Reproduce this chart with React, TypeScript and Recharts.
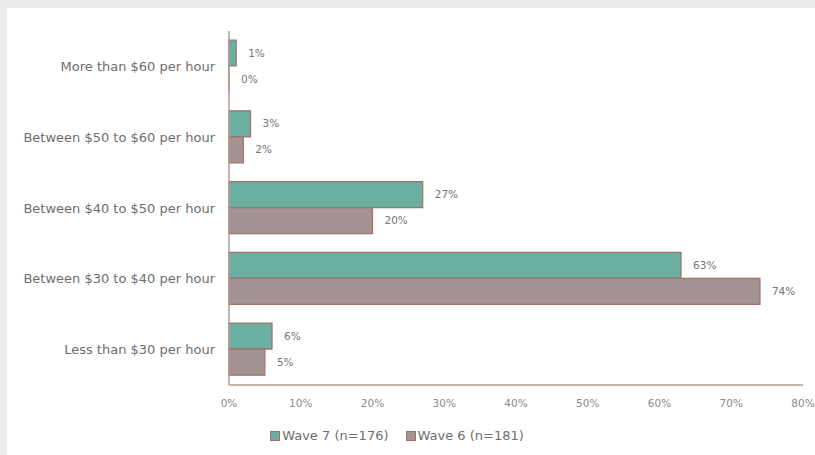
import { BarChart, Bar, XAxis, YAxis } from "recharts";

const categories = [
  "More than $60 per hour",
  "Between $50 to $60 per hour",
  "Between $40 to $50 per hour",
  "Between $30 to $40 per hour",
  "Less than $30 per hour",
];
const wave7 = [1, 3, 27, 63, 6];
const wave6 = [0, 2, 20, 74, 5];
const xTicks = [0, 10, 20, 30, 40, 50, 60, 70, 80];

const seriesNames = ["Wave 7 (n=176)", "Wave 6 (n=181)"];
const tealFill = "#6bafa3";
const greyFill = "#a39493";
const barStroke = "#9c7268";
const axisColor = "#b49a91";
const textColor = "#6e6e6e";
const font = "'DejaVu Sans', sans-serif";

const data = categories.map((name, i) => ({
  name,
  w7: wave7[i],
  w6: wave6[i],
}));

// draws the value label to the right of each bar
const valueLabel = (props: any) => {
  const { x, y, width, height, value } = props;
  return (
    <text
      x={Number(x) + Number(width) + 12}
      y={Number(y) + Number(height) / 2}
      dy="0.35em"
      fill="#757575"
      fontSize={10.5}
      fontFamily={font}
    >
      {`${value}%`}
    </text>
  );
};

function LegendBox() {
  const items = [
    { label: seriesNames[0], fill: tealFill },
    { label: seriesNames[1], fill: greyFill },
  ];
  return (
    <div style={{ display: "flex", justifyContent: "center", gap: 17, fontFamily: font, fontSize: 13, color: textColor }}>
      {items.map((it) => (
        <div key={it.label} style={{ display: "flex", alignItems: "center" }}>
          <span
            style={{
              display: "inline-block",
              width: 8,
              height: 8,
              background: it.fill,
              border: `1px solid ${barStroke}`,
              marginRight: 2,
            }}
          />
          {it.label}
        </div>
      ))}
    </div>
  );
}

export default function App() {
  return (
    <div style={{ position: "absolute", left: 0, top: 0, width: 815, height: 455, background: "#ebebeb" }}>
      <div style={{ position: "absolute", left: 7, top: 8, width: 808, height: 447, background: "#fff" }}>
        <BarChart
          width={808}
          height={412}
          data={data}
          layout="vertical"
          margin={{ top: 23, right: 12, left: 0, bottom: 0 }}
          barGap={0}
          barSize={26}
        >
          <XAxis
            type="number"
            domain={[0, 80]}
            ticks={xTicks}
            tickFormatter={(v) => `${v}%`}
            axisLine={{ stroke: axisColor, strokeWidth: 1.5 }}
            tickLine={false}
            tickSize={6}
            tickMargin={9}
            height={35}
            tick={{ fill: "#8a8a8a", fontSize: 10.5, fontFamily: font }}
            interval={0}
          />
          <YAxis
            type="category"
            dataKey="name"
            width={222}
            axisLine={{ stroke: axisColor, strokeWidth: 1.5 }}
            tickLine={false}
            tickSize={6}
            tickMargin={8}
            tick={{ fill: textColor, fontSize: 13, fontFamily: font }}
            interval={0}
          />
          <Bar dataKey="w7" fill={tealFill} stroke={barStroke} strokeWidth={1.2} isAnimationActive={false} label={valueLabel} />
          <Bar
            dataKey="w6"
            fill={greyFill}
            stroke={barStroke}
            strokeWidth={1.2}
            minPointSize={0.01}
            isAnimationActive={false}
            label={valueLabel}
          />
        </BarChart>
        <div style={{ position: "absolute", left: 0, top: 420, width: 780 }}>
          <LegendBox />
        </div>
      </div>
    </div>
  );
}
